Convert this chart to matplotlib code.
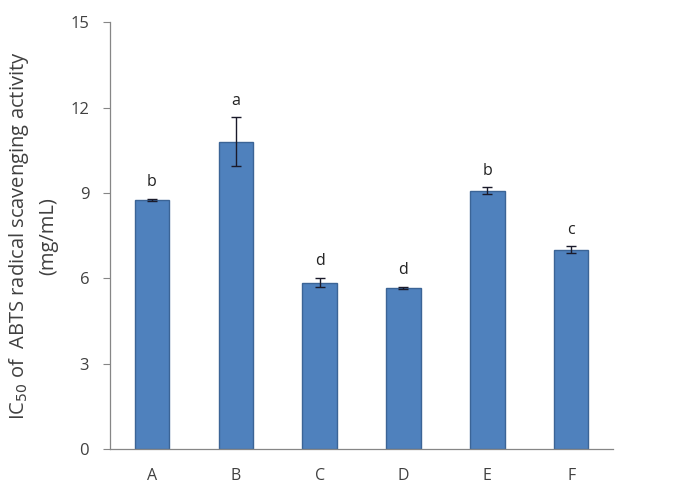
import matplotlib
matplotlib.use("Agg")
import matplotlib.pyplot as plt

categories = ["A", "B", "C", "D", "E", "F"]
values = [8.75, 10.8, 5.85, 5.67, 9.08, 7.01]
errors = [0.05, 0.87, 0.17, 0.03, 0.12, 0.12]
letters = ["b", "a", "d", "d", "b", "c"]
yticks = [0, 3, 6, 9, 12, 15]

plt.rcParams['font.family'] = ['Open Sans', 'DejaVu Sans']
txt = "#404040"
fig = plt.figure(figsize=(6.73, 4.92), dpi=100)
ax = fig.add_axes([0.1634, 0.0874, 0.7476, 0.8676])
x = range(len(categories))
ax.bar(x, values, width=0.41, color="#4F81BD", edgecolor="#3B6496", linewidth=1.0,
       yerr=errors, error_kw=dict(ecolor="#1a1a2a", elinewidth=1.0, capsize=3.5, capthick=1.0))
for i, (v, e, l) in enumerate(zip(values, errors, letters)):
    ax.annotate(l, (i, v + e), xytext=(0, 6), textcoords="offset points",
                ha="center", va="bottom", fontsize=11.5, color="#222222")
ax.set_xlim(-0.5, len(categories) - 0.5)
ax.set_ylim(0, 15)
ax.set_yticks(yticks)
ax.set_xticks(list(x))
ax.set_xticklabels(categories)
ax.tick_params(axis="x", length=0, pad=14, labelsize=11.5, labelcolor=txt)
ax.tick_params(axis="y", length=5, direction="out", width=0.8, color="#868686",
               labelsize=12, labelcolor=txt, pad=10)
for s in ["top", "right"]:
    ax.spines[s].set_visible(False)
for s in ["left", "bottom"]:
    ax.spines[s].set_color("#868686")
    ax.spines[s].set_linewidth(0.9)
ax.set_ylabel("IC$_{50}$ of  ABTS radical scavenging activity\n(mg/mL)", fontsize=14.5,
              color=txt, labelpad=9, linespacing=1.45)
fig.savefig("out.png", dpi=100)
